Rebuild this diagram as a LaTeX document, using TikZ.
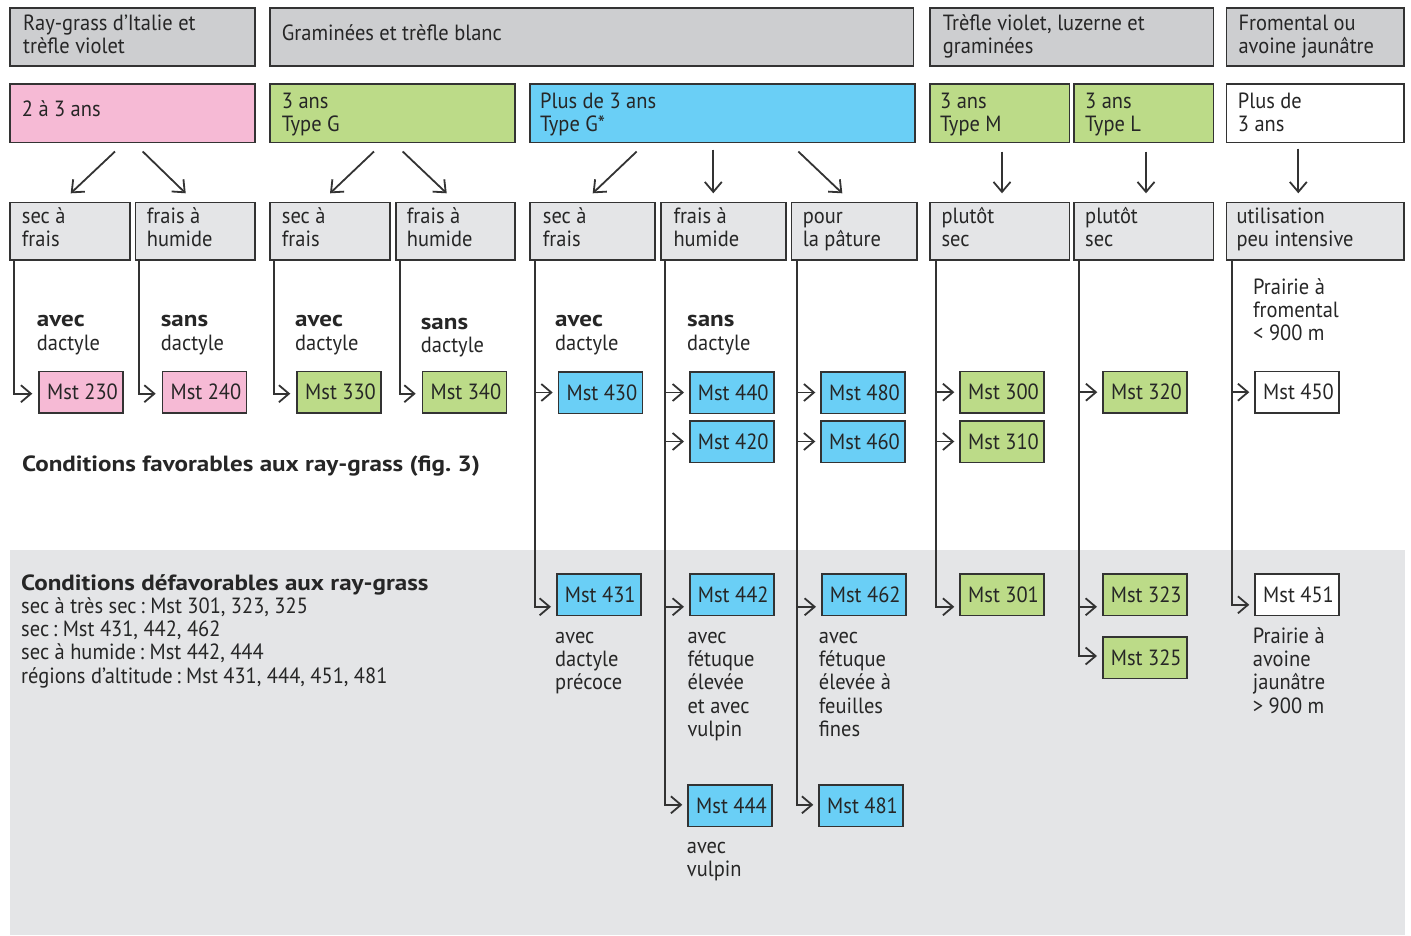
\documentclass[tikz,border=0pt]{standalone}
\usepackage{fontspec}
\setmainfont{PT Sans}[UprightFeatures={FakeStretch=0.93},BoldFeatures={FakeStretch=1.14}]
\frenchspacing
\usetikzlibrary{arrows.meta,calc}
\definecolor{hdr}{HTML}{CDCED0}
\definecolor{sub}{HTML}{E4E5E7}
\definecolor{pinkc}{HTML}{F6BAD5}
\definecolor{greenc}{HTML}{BCDB88}
\definecolor{bluec}{HTML}{6ACFF6}
\definecolor{edge}{HTML}{333333}
\newcommand\mainfnt{\fontsize{22}{23.3}\selectfont}
\newcommand\bx[6]{\node[box,fill=#6,minimum width={(#4-#2)*1pt},minimum height={(#5-#3)*1pt}] (#1) at (#2,#3) {};}
\tikzset{
 box/.style={draw=edge,line width=1.5pt,inner sep=0pt,anchor=north west},
 txt/.style={anchor=base west,inner sep=0pt,align=left,font=\mainfnt,text=black!85},
 mst/.style={draw=edge,line width=1.5pt,inner sep=0pt,anchor=north west,font=\mainfnt,text=black!85,minimum width=84pt,minimum height=41.5pt,execute at begin node={\hskip3pt}},
 arr/.style={draw=edge,line width=1.8pt,-{Straight Barb[length=10pt,width=17pt,line width=1.8pt]}},
}
\begin{document}
\begin{tikzpicture}[x=1pt,y=-1pt]
\useasboundingbox (0,0) rectangle (1411,935);
\fill[sub] (10,550) rectangle (1405,935);
% row 1
\bx{h1}{9}{7.3}{254.3}{65}{hdr}
\bx{h2}{269.3}{7.3}{912.7}{65}{hdr}
\bx{h3}{929.3}{7.3}{1212.7}{65}{hdr}
\bx{h4}{1225.7}{7.3}{1403.3}{65}{hdr}
\node[txt] (th1) at (23,53.3) {Ray-grass d’Italie et\\trèfle violet};
\node[txt] (th2) at (281.7,40.7) {Graminées et trèfle blanc};
\node[txt] (th3) at (942.7,53.3) {Trèfle violet, luzerne et\\graminées};
\node[txt] (th4) at (1238.3,53.3) {Fromental ou\\avoine jaunâtre};
% row 2
\bx{p1}{9}{83.3}{254.3}{141.7}{pinkc}
\bx{p2}{269.3}{83.3}{514.3}{141.7}{greenc}
\bx{p3}{529.3}{83.3}{914}{141.7}{bluec}
\bx{p4}{929.3}{83.3}{1068.7}{141.7}{greenc}
\bx{p5}{1073.3}{83.3}{1212.7}{141.7}{greenc}
\bx{p6}{1225.7}{83.3}{1403.3}{141.7}{white}
\node[txt] (tp1) at (21.7,116.7) {2 à 3 ans};
\node[txt] (tp2) at (281.7,131.6) {3 ans\\Type G};
\node[txt] (tp3) at (540,131.6) {Plus de 3 ans\\Type G*};
\node[txt] (tp4) at (940,131.6) {3 ans\\Type M};
\node[txt] (tp5) at (1085,131.6) {3 ans\\Type L};
\node[txt] (tp6) at (1237.7,131.6) {Plus de\\3 ans};
% row 3
\bx{s1}{9}{201.7}{129.3}{259.3}{sub}
\bx{s2}{134.7}{201.7}{254.3}{259.3}{sub}
\bx{s3}{269.3}{201.7}{389.3}{259.3}{sub}
\bx{s4}{395.3}{201.7}{514.3}{259.3}{sub}
\bx{s5}{529.3}{201.7}{654.3}{259.3}{sub}
\bx{s6}{660}{201.7}{785}{259.3}{sub}
\bx{s7}{790.7}{201.7}{916}{259.3}{sub}
\bx{s8}{929.3}{201.7}{1068.7}{259.3}{sub}
\bx{s9}{1073.3}{201.7}{1212.7}{259.3}{sub}
\bx{s10}{1225.7}{201.7}{1403.3}{259.3}{sub}
\node[txt] (ts1) at (21.7,246.6) {sec à\\frais};
\node[txt] (ts2) at (146.7,246.6) {frais à\\humide};
\node[txt] (ts3) at (281.7,246.6) {sec à\\frais};
\node[txt] (ts4) at (406.7,246.6) {frais à\\humide};
\node[txt] (ts5) at (542.7,246.6) {sec à\\frais};
\node[txt] (ts6) at (673.3,246.6) {frais à\\humide};
\node[txt] (ts7) at (802.7,246.6) {pour\\la pâture};
\node[txt] (ts8) at (941.3,246.6) {plutôt\\sec};
\node[txt] (ts9) at (1085,246.6) {plutôt\\sec};
\node[txt] (ts10) at (1236.3,246.6) {utilisation\\peu intensive};
% arrows row2 -> row3
\draw[arr] ($(p1.south west)+(115-9,8.3)$) -- ($(s1.north west)+(70.7-9,-8.4)$);
\draw[arr] ($(p1.south west)+(142.7-9,8.3)$) -- ($(s2.north west)+(185.7-134.7,-8.4)$);
\draw[arr] ($(p2.south west)+(374-269.3,8.3)$) -- ($(s3.north west)+(330-269.3,-8.4)$);
\draw[arr] ($(p2.south west)+(402.7-269.3,8.3)$) -- ($(s4.north west)+(446.7-395.3,-8.4)$);
\draw[arr] ($(p3.south west)+(636.7-529.3,8.3)$) -- ($(s5.north west)+(592.7-529.3,-8.4)$);
\draw[arr] ($(p3.south west)+(713.3-529.3,6.3)$) -- ($(s6.north west)+(713.3-660,-8.4)$);
\draw[arr] ($(p3.south west)+(798.3-529.3,8.3)$) -- ($(s7.north west)+(842.3-790.7,-8.4)$);
\draw[arr] ($(p4.south west)+(1002-929.3,8.3)$) -- ($(s8.north west)+(1002-929.3,-8.4)$);
\draw[arr] ($(p5.south west)+(1146-1073.3,8.3)$) -- ($(s9.north west)+(1146-1073.3,-8.4)$);
\draw[arr] ($(p6.south west)+(1298.3-1225.7,5.3)$) -- ($(s10.north west)+(1298.3-1225.7,-8.4)$);
% Mst boxes
\node[mst,fill=pinkc] (m230) at (38.3,370.7) {Mst 230};
\node[mst,fill=pinkc] (m240) at (161.7,370.7) {Mst 240};
\node[mst,fill=greenc] (m330) at (296.3,370.7) {Mst 330};
\node[mst,fill=greenc] (m340) at (421.7,370.7) {Mst 340};
\node[mst,fill=bluec] (m430) at (557.7,371) {Mst 430};
\node[mst,fill=bluec] (m440) at (689,371) {Mst 440};
\node[mst,fill=bluec] (m420) at (689,420) {Mst 420};
\node[mst,fill=bluec] (m480) at (820.3,371) {Mst 480};
\node[mst,fill=bluec] (m460) at (820.3,420) {Mst 460};
\node[mst,fill=greenc] (m300) at (959.3,370.7) {Mst 300};
\node[mst,fill=greenc] (m310) at (959.3,420) {Mst 310};
\node[mst,fill=greenc] (m320) at (1102.3,370.7) {Mst 320};
\node[mst,fill=white] (m450) at (1254.3,370.7) {Mst 450};
\node[mst,fill=bluec] (m431) at (556,573.3) {Mst 431};
\node[mst,fill=bluec] (m442) at (689,573.3) {Mst 442};
\node[mst,fill=bluec] (m462) at (821,573.3) {Mst 462};
\node[mst,fill=bluec] (m444) at (687.3,784.3) {Mst 444};
\node[mst,fill=bluec] (m481) at (818.3,784.3) {Mst 481};
\node[mst,fill=greenc] (m301) at (959.3,573.3) {Mst 301};
\node[mst,fill=greenc] (m323) at (1102,573.3) {Mst 323};
\node[mst,fill=greenc] (m325) at (1102,636) {Mst 325};
\node[mst,fill=white] (m451) at (1254.3,573.3) {Mst 451};
% vertical connectors
\draw[arr] ([xshift=5.3pt]s1.south west) |- ([xshift=-6pt,yshift=-1.5pt]m230.west);
\draw[arr] ([xshift=4.6pt]s2.south west) |- ([xshift=-6pt,yshift=-1.5pt]m240.west);
\draw[arr] ([xshift=4.7pt]s3.south west) |- ([xshift=-6pt,yshift=-1.5pt]m330.west);
\draw[arr] ([xshift=4.7pt]s4.south west) |- ([xshift=-6pt,yshift=-1.5pt]m340.west);
\draw[arr] ([xshift=5.7pt]s5.south west) |- ([xshift=-5pt]m430.west);
\draw[arr] ([xshift=5.7pt]s5.south west) |- ([xshift=-5pt,yshift=-12pt]m431.west);
\draw[arr] ([xshift=5pt]s6.south west) |- ([xshift=-5pt]m440.west);
\draw[arr] ([xshift=5pt]s6.south west) |- ([xshift=-5pt]m420.west);
\draw[arr] ([xshift=5pt]s6.south west) |- ([xshift=-5pt,yshift=-12pt]m442.west);
\draw[arr] ([xshift=5pt]s6.south west) |- ([xshift=-5pt,yshift=1pt]m444.west);
\draw[arr] ([xshift=6pt]s7.south west) |- ([xshift=-5pt]m480.west);
\draw[arr] ([xshift=6pt]s7.south west) |- ([xshift=-5pt]m460.west);
\draw[arr] ([xshift=6pt]s7.south west) |- ([xshift=-5pt,yshift=-12pt]m462.west);
\draw[arr] ([xshift=6pt]s7.south west) |- ([xshift=-5pt,yshift=1pt]m481.west);
\draw[arr] ([xshift=6.7pt]s8.south west) |- ([xshift=-5pt]m300.west);
\draw[arr] ([xshift=6.7pt]s8.south west) |- ([xshift=-5pt]m310.west);
\draw[arr] ([xshift=6.7pt]s8.south west) |- ([xshift=-5pt,yshift=-12pt]m301.west);
\draw[arr] ([xshift=6pt]s9.south west) |- ([xshift=-5pt]m320.west);
\draw[arr] ([xshift=6pt]s9.south west) |- ([xshift=-5pt,yshift=-12pt]m323.west);
\draw[arr] ([xshift=6pt]s9.south west) |- ([xshift=-5pt,yshift=1.5pt]m325.west);
\draw[arr] ([xshift=6pt]s10.south west) |- ([xshift=-5pt]m450.west);
\draw[arr] ([xshift=6pt]s10.south west) |- ([xshift=-5pt,yshift=-10pt]m451.west);
% labels
\node[txt] (l1) at (36.7,350) {\textbf{avec}\\dactyle};
\node[txt] (l2) at (160.7,350) {\textbf{sans}\\dactyle};
\node[txt] (l3) at (295,350) {\textbf{avec}\\dactyle};
\node[txt] (l4) at (420.7,352.3) {\textbf{sans}\\dactyle};
\node[txt] (l5) at (555,350) {\textbf{avec}\\dactyle};
\node[txt] (l6) at (687,350) {\textbf{sans}\\dactyle};
\node[txt] (l7) at (1253,340.6) {Prairie à\\fromental\\< 900 m};
\node[txt,font=\mainfnt\bfseries] (fav) at (22,471.7) {Conditions favorables aux ray-grass (fig. 3)};
\node[txt] (defav) at (21,683.2) {\textbf{Conditions défavorables aux ray-grass}\\sec à très sec\,: Mst 301, 323, 325\\sec\,: Mst 431, 442, 462\\sec à humide\,: Mst 442, 444\\régions d’altitude\,: Mst 431, 444, 451, 481};
\node[txt] (l8) at (555,689.9) {avec\\dactyle\\précoce};
\node[txt] (l9) at (687.3,736.5) {avec\\fétuque\\élevée\\et avec\\vulpin};
\node[txt] (l10) at (818.7,736.5) {avec\\fétuque\\élevée à\\feuilles\\fines};
\node[txt] (l11) at (686.7,876.6) {avec\\vulpin};
\node[txt] (l12) at (1252.7,713.2) {Prairie à\\avoine\\jaunâtre\\> 900 m};
\end{tikzpicture}
\end{document}
